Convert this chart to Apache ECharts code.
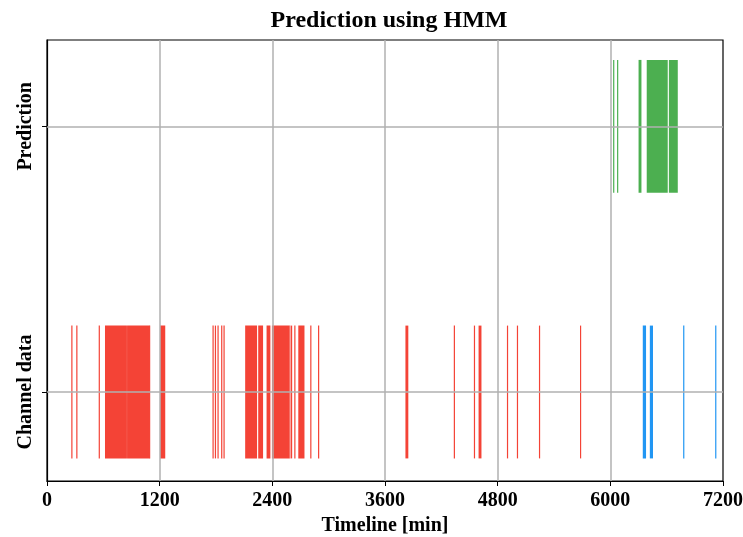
<!DOCTYPE html>
<html>
<head>
<meta charset="utf-8">
<script src="https://cdn.jsdelivr.net/npm/echarts@6/dist/echarts.min.js"></script>
<style>
  html, body { margin: 0; padding: 0; background: #fff; }
  #grafico { width: 743px; height: 537px; }
</style>
</head>
<body>
<div id="grafico"></div>
<script>
// filas del eje y
let filas = ['Channel data', 'Prediction'];
let xTicks = [0, 1200, 2400, 3600, 4800, 6000, 7200];
let yTicks = [0, 1];

// eventos [inicio, fin] en minutos
let canalRojo = [
    [265, 265], [318, 318], [557, 557], [624, 845], [859, 1083], [1093, 1093],
    [1211, 1253], [1769, 1769], [1794, 1794], [1822, 1822], [1861, 1861], [1886, 1886],
    [2117, 2231], [2256, 2295], [2345, 2373], [2402, 2573], [2587, 2587], [2605, 2605],
    [2640, 2640], [2683, 2736], [2810, 2810], [2893, 2893],
    [3824, 3842], [4339, 4339], [4553, 4553], [4603, 4621], [4905, 4905], [5011, 5011],
    [5246, 5246], [5683, 5683]
];
let canalAzul = [[6352, 6374], [6427, 6448], [6782, 6782], [7123, 7123]];
let prediccionVerde = [[6036, 6036], [6078, 6078], [6307, 6325], [6394, 6605], [6630, 6712]];

function serieEventos(nombre, datos, fila, color) {
    return {
        name: nombre,
        type: 'custom',
        silent: true,
        data: datos.map(d => [d[0], d[1], fila]),
        encode: { x: [0, 1], y: 2 },
        renderItem: function (params, api) {
            let a = api.coord([api.value(0), api.value(2) + 0.25]);
            let b = api.coord([api.value(1), api.value(2) - 0.25]);
            return {
                type: 'rect',
                shape: { x: a[0] - 0.6, y: a[1], width: b[0] - a[0] + 1.2, height: b[1] - a[1] },
                style: { fill: color }
            };
        }
    };
}

// rejilla encima de los eventos, como en el original
function serieRejilla() {
    let lineas = xTicks.slice(1, -1).map(v => ({ xAxis: v }))
        .concat(yTicks.map(v => ({ yAxis: v })));
    return {
        type: 'line',
        data: [],
        z: 10,
        silent: true,
        markLine: {
            silent: true,
            symbol: 'none',
            animation: false,
            label: { show: false },
            lineStyle: { color: '#b0b0b0', width: 1.5, type: 'solid' },
            data: lineas
        }
    };
}

function dibujar() {
    let graf = echarts.init(document.getElementById('grafico'));
    let fuente = 'Liberation Serif';
    let option = {
        animation: false,
        title: {
            text: 'Prediction using HMM',
            left: 384,
            textAlign: 'center',
            top: 4,
            textStyle: { fontFamily: fuente, fontWeight: 'bold', fontSize: 24, color: '#000' }
        },
        grid: {
            left: 47, right: 20, top: 40, bottom: 56,
            outerBoundsMode: 'none',
            containLabel: false,
            show: true, borderColor: '#000', borderWidth: 1.2
        },
        xAxis: {
            type: 'value',
            min: 0, max: 7200, interval: 1200,
            name: 'Timeline [min]',
            nameLocation: 'middle',
            nameGap: 34,
            nameTextStyle: { fontFamily: fuente, fontWeight: 'bold', fontSize: 20, color: '#000' },
            axisLine: { onZero: false, lineStyle: { color: '#000', width: 1.2 } },
            axisTick: { show: true, length: 5, lineStyle: { color: '#000' } },
            axisLabel: {
                fontFamily: fuente, fontWeight: 'bold', fontSize: 20, color: '#000', margin: 10,
                formatter: v => String(v)
            },
            splitLine: { show: false }
        },
        yAxis: {
            type: 'value',
            min: -0.335, max: 1.325,
            axisLine: { show: true, onZero: false, lineStyle: { color: '#000', width: 1.2 } },
            axisTick: { show: true, length: 5, customValues: yTicks, lineStyle: { color: '#000' } },
            axisLabel: {
                customValues: yTicks,
                rotate: 90,
                margin: 11,
                fontFamily: fuente, fontWeight: 'bold', fontSize: 20, color: '#000',
                formatter: v => filas[Math.round(v)]
            },
            splitLine: { show: false }
        },
        series: [
            serieEventos('Canal rojo', canalRojo, 0, '#f44336'),
            serieEventos('Canal azul', canalAzul, 0, '#2196f3'),
            serieEventos('Prediccion', prediccionVerde, 1, '#4caf50'),
            serieRejilla()
        ]
    };
    graf.setOption(option);
}

dibujar();
</script>
</body>
</html>
